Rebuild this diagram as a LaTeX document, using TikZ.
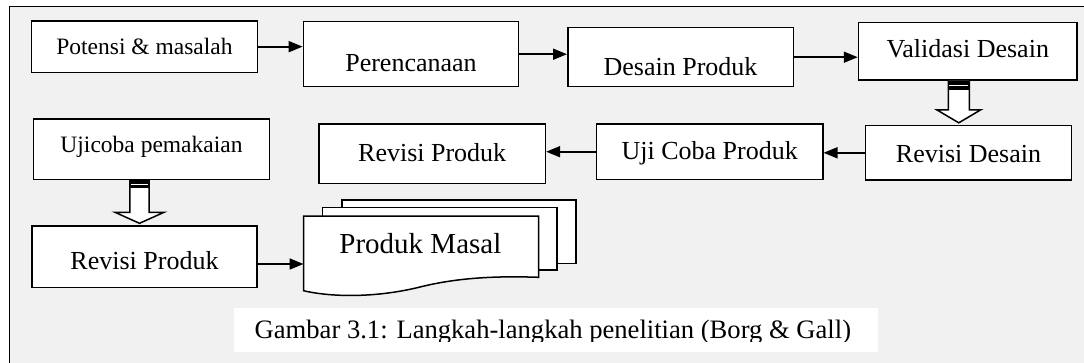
\documentclass[tikz,border=0pt]{standalone}
\usepackage{fontspec}
\setmainfont{Liberation Serif}
\usetikzlibrary{arrows.meta,calc,positioning}
\definecolor{pagegray}{RGB}{241,241,241}

\begin{document}
\begin{tikzpicture}[
  x=1pt, y=-1pt,
  block/.style={rectangle, draw, fill=white, line width=1.5pt, inner sep=0pt, font=\fontsize{26}{30}\selectfont},
  smallblock/.style={block, font=\fontsize{23.5}{28}\selectfont},
  arr/.style={-{Triangle[length=14pt,width=11pt]}, line width=1.8pt},
  hollow/.style={draw, fill=white, line width=1.5pt, line join=miter},
  sheet/.style={draw, fill=white, line width=1.5pt},
  node distance=270pt
]
\useasboundingbox (0,0) rectangle (1084,362);
\clip (0,0) rectangle (1084,362);
\draw[fill=pagegray, line width=1.2pt] (9.6,6.7) rectangle (1100,380);

% first row
\node[smallblock, minimum width=225.6pt, text height=33.3pt, text depth=18pt] (pot) at (144.5,46.65) {Potensi \& masalah};
\node[block, right of=pot, node distance=266.5pt, yshift=-7.55pt, minimum width=215.3pt, text height=49.3pt, text depth=15.7pt] (per) {Perencanaan};
\node[block, right of=per, node distance=269.5pt, yshift=-3pt, minimum width=225.5pt, text height=47.3pt, text depth=11.7pt] (des) {Desain Produk};
\node[block, right of=des, node distance=287.25pt, yshift=6pt, minimum width=218.5pt, text height=35.4pt, text depth=22.3pt] (val) {Validasi Desain};

% second row, right to left
\node[block, below of=val, node distance=101.6pt, xshift=0.75pt, minimum width=206.1pt, text height=36.8pt, text depth=17.7pt] (revd) {Revisi Desain};
\node[block, left of=revd, node distance=258.8pt, yshift=1.1pt, minimum width=226.2pt, text height=35.3pt, text depth=20.2pt] (ujic) {Uji Coba Produk};
\node[block, left of=ujic, node distance=277.5pt, yshift=-2pt, minimum width=226.4pt, text height=37.7pt, text depth=21.6pt] (revp) {Revisi Produk};
\node[smallblock, left of=revp, node distance=280.7pt, yshift=4.5pt, minimum width=236.3pt, text height=33.7pt, text depth=26.6pt] (uji) {Ujicoba pemakaian};

% third row
\node[block, below of=uji, node distance=107.5pt, xshift=-7pt, minimum width=225.4pt, text height=43.3pt, text depth=18pt] (revp2) {Revisi Produk};

% stacked documents
\draw[sheet] (341.8,200) rectangle (576,263.3);
\draw[sheet] (322.6,207.7) rectangle (556.8,270);
\draw[sheet] (303.5,216) -- (538.5,216) -- (538.5,277.3)
  .. controls (500,276) and (460,277) .. (420,287)
  .. controls (380,297) and (335,298) .. (303.5,290.7) -- cycle;
\node[font=\fontsize{29}{34}\selectfont, anchor=base, inner sep=0pt] (masal) at (420.4,253.3) {Produk Masal};
\coordinate (masal-w) at (303.5,264);

\draw[arr] (pot.east) -- (pot.east -| per.west);
\draw[arr] (per.east) -- (per.east -| des.west);
\draw[arr] (des.east) -- (des.east -| val.west);
\draw[arr] (revd.west) -- (revd.west -| ujic.east);
\draw[arr] (ujic.west) -- (ujic.west -| revp.east);
\draw[arr] (revp2.east |- masal-w) -- (masal-w);

% hollow arrows
\coordinate (va-top) at ([xshift=-9pt]val.south);
\coordinate (va-tip) at (va-top |- revd.north);
\draw[hollow] let \p1=(va-top), \p2=(va-tip) in
  (\x1-10.5pt,\y1) -- (\x1-10.5pt,\y2+15pt) -- (\x1-22pt,\y2+15pt) -- (\x2,\y2+2pt)
  -- (\x1+22pt,\y2+15pt) -- (\x1+10.5pt,\y2+15pt) -- (\x1+10.5pt,\y1);
\fill let \p1=(va-top) in (\x1-10.5pt,\y1) rectangle (\x1+10.5pt,\y1-9pt);
\draw[white, line width=1.2pt] let \p1=(va-top) in (\x1-9.5pt,\y1-5pt) -- (\x1+9.5pt,\y1-5pt);

\coordinate (uj-top) at ([xshift=-12pt]uji.south);
\coordinate (uj-tip) at (uj-top |- revp2.north);
\draw[hollow] let \p1=(uj-top), \p2=(uj-tip) in
  (\x1-9.7pt,\y1) -- (\x1-9.7pt,\y2+13pt) -- (\x1-24.5pt,\y2+13pt) -- (\x2,\y2+2pt)
  -- (\x1+24.5pt,\y2+13pt) -- (\x1+9.7pt,\y2+13pt) -- (\x1+9.7pt,\y1);
\fill let \p1=(uj-top) in (\x1-9.7pt,\y1) rectangle (\x1+9.7pt,\y1-8pt);
\draw[white, line width=1.2pt] let \p1=(uj-top) in (\x1-8.7pt,\y1-4.5pt) -- (\x1+8.7pt,\y1-4.5pt);

% caption
\fill[white] (234.2,307.7) rectangle (877.5,351.7);
\begin{scope}
\clip (234.2,307.7) rectangle (877.5,341.8);
\node[font=\fontsize{26.6}{30}\selectfont, anchor=base west, inner sep=0pt] (cap) at (254.5,338.3) {Gambar 3.1: Langkah-langkah penelitian (Borg \& Gall)};
\end{scope}
\end{tikzpicture}
\end{document}
